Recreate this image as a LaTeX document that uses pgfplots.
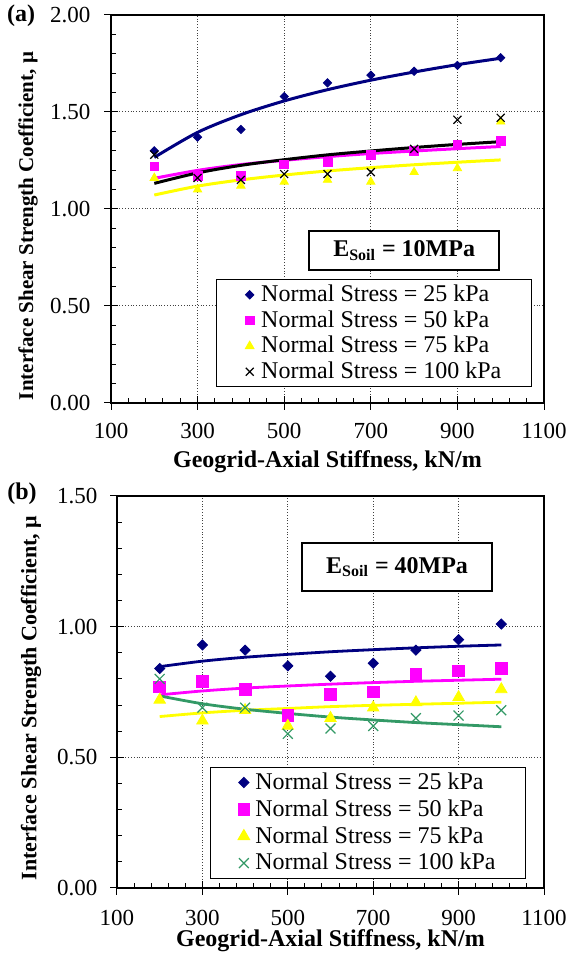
\documentclass[border=0pt]{standalone}
\usepackage{fontspec}
\setmainfont{Liberation Serif}
\usepackage{pgfplots}
\pgfplotsset{compat=1.18}

\definecolor{navyA}{RGB}{0,0,128}
\definecolor{magA}{RGB}{255,0,255}
\definecolor{yelA}{RGB}{255,255,0}
\definecolor{grnB}{RGB}{51,153,102}

\pgfplotsset{
  geo/.style={
    scale only axis,
    xmin=100, xmax=1100,
    xtick={100,300,500,700,900,1100},
    minor x tick num=4,
    ymin=0,
    minor y tick num=4,
    xtick pos=left, ytick pos=left,
    tick align=inside,
    major tick length=6.7pt, minor tick length=2.6pt,
    tick style={black, line width=0.5pt},
    major x tick style={yshift=-3.35pt},
    major y tick style={xshift=-3.35pt},
    grid=major,
    major grid style={densely dotted, black!75, line width=0.5pt},
    axis line style={line width=0.7pt},
    /pgf/number format/assume math mode=true,
    ticklabel style={font=\fontsize{11.5}{13}\selectfont},
    xticklabel style={/pgf/number format/1000 sep={}, anchor=base},
    yticklabel style={/pgf/number format/fixed, /pgf/number format/fixed zerofill,
      /pgf/number format/precision=2},
    xlabel={Geogrid-Axial Stiffness, kN/m},
    ylabel={Interface Shear Strength Coefficient, μ},
    legend cell align=left,
    legend image code/.code={\path (-3.5pt,0pt) (3.5pt,0pt); \draw[#1] plot coordinates {(0pt,0pt)};},
    legend style={draw=black, line width=0.5pt, fill=white, inner xsep=13pt, inner ysep=1pt,
      font=\fontsize{12}{14}\selectfont, nodes={inner xsep=2pt, inner ysep=1.5pt},
      anchor=south east},
  },
}
\tikzset{
  ebox/.style={draw=black, line width=0.9pt, fill=white, minimum width=95pt,
    font=\bfseries\fontsize{12}{14}\selectfont},
}

\begin{document}
\begin{tikzpicture}
\useasboundingbox (0,0) rectangle (285pt,476.5pt);

% (a) E_soil = 10 MPa
\begin{axis}[geo,
  at={(55.5pt,275pt)}, anchor=south west,
  width=216.5pt, height=194pt,
  ymax=2, ytick={0,0.5,1,1.5,2},
  xticklabel style={yshift=-18pt},
  yticklabel style={xshift=-6.8pt},
  xlabel style={font=\bfseries\fontsize{12}{14}\selectfont, at={([yshift=-32.5pt]axis description cs:0.5,0)}, anchor=base},
  ylabel style={font=\bfseries\fontsize{10.5}{12}\selectfont, at={([xshift=-41.5pt]axis description cs:0,0.456)}, anchor=center},
  legend style={at={(0.972,0.041)}},
]
\addplot[only marks, mark=square*, mark size=1.45pt, mark options={rotate=45, fill=navyA, draw=navyA}]
  coordinates {(200,1.30)(300,1.37)(400,1.41)(500,1.58)(600,1.65)(700,1.69)(800,1.71)(900,1.74)(1000,1.78)};
\addlegendentry{Normal Stress = 25 kPa}
\addplot[only marks, mark=square*, mark size=2.2pt, mark options={fill=magA, draw=magA}]
  coordinates {(200,1.22)(300,1.17)(400,1.17)(500,1.23)(600,1.24)(700,1.28)(800,1.30)(900,1.33)(1000,1.35)};
\addlegendentry{Normal Stress = 50 kPa}
\addplot[only marks, mark=triangle*, mark size=2.4pt, mark options={fill=yelA, draw=yelA}]
  coordinates {(200,1.16)(300,1.10)(400,1.12)(500,1.14)(600,1.15)(700,1.14)(800,1.19)(900,1.21)(1000,1.45)};
\addlegendentry{Normal Stress = 75 kPa}
\addplot[only marks, mark=x, mark size=2.8pt, mark options={draw=black, line width=0.6pt}]
  coordinates {(200,1.28)(300,1.16)(400,1.15)(500,1.18)(600,1.18)(700,1.19)(800,1.31)(900,1.46)(1000,1.47)};
\addlegendentry{Normal Stress = 100 kPa}

% trend lines
\addplot[navyA, line width=1.5pt, smooth, forget plot]
  coordinates {(200,1.266)(300,1.395)(400,1.486)(500,1.557)(600,1.615)(700,1.664)(800,1.706)(900,1.744)(1000,1.777)};
\addplot[magA, line width=1.5pt, smooth, forget plot]
  coordinates {(200,1.158)(300,1.199)(400,1.229)(500,1.251)(600,1.270)(700,1.286)(800,1.299)(900,1.311)(1000,1.322)};
\addplot[yelA, line width=1.5pt, smooth, forget plot]
  coordinates {(200,1.072)(300,1.118)(400,1.150)(500,1.175)(600,1.196)(700,1.213)(800,1.228)(900,1.241)(1000,1.253)};
\addplot[black, line width=1.5pt, smooth, forget plot]
  coordinates {(200,1.132)(300,1.186)(400,1.225)(500,1.254)(600,1.279)(700,1.299)(800,1.317)(900,1.333)(1000,1.347)};

\node[ebox, minimum height=19.5pt] at (rel axis cs:0.677,0.393) {E\textsubscript{Soil} = 10MPa};
\end{axis}

% (b) E_soil = 40 MPa
\begin{axis}[geo,
  at={(58.5pt,32.5pt)}, anchor=south west,
  width=213.5pt, height=196pt,
  ymax=1.5, ytick={0,0.5,1,1.5},
  xticklabel style={yshift=-18.7pt},
  yticklabel style={xshift=-6.3pt},
  xlabel style={font=\bfseries\fontsize{12}{14}\selectfont, at={([yshift=-29.2pt]axis description cs:0.5,0)}, anchor=base},
  ylabel style={font=\bfseries\fontsize{11}{12}\selectfont, at={([xshift=-43pt]axis description cs:0,0.485)}, anchor=center},
  legend style={at={(0.958,0.023)}, nodes={inner ysep=1.8pt}},
]
\addplot[only marks, mark=square*, mark size=1.8pt, mark options={rotate=45, fill=navyA, draw=navyA}]
  coordinates {(200,0.84)(300,0.93)(400,0.91)(500,0.85)(600,0.81)(700,0.86)(800,0.91)(900,0.95)(1000,1.01)};
\addlegendentry{Normal Stress = 25 kPa}
\addplot[only marks, mark=square*, mark size=2.9pt, mark options={fill=magA, draw=magA}]
  coordinates {(200,0.77)(300,0.79)(400,0.76)(500,0.66)(600,0.74)(700,0.75)(800,0.82)(900,0.83)(1000,0.84)};
\addlegendentry{Normal Stress = 50 kPa}
\addplot[only marks, mark=triangle*, mark size=3.3pt, mark options={fill=yelA, draw=yelA}]
  coordinates {(200,0.72)(300,0.64)(400,0.68)(500,0.62)(600,0.65)(700,0.69)(800,0.71)(900,0.73)(1000,0.76)};
\addlegendentry{Normal Stress = 75 kPa}
\addplot[only marks, mark=x, mark size=3.5pt, mark options={draw=grnB, line width=0.6pt}]
  coordinates {(200,0.80)(300,0.69)(400,0.69)(500,0.59)(600,0.61)(700,0.62)(800,0.65)(900,0.66)(1000,0.68)};
\addlegendentry{Normal Stress = 100 kPa}

% trend lines
\addplot[navyA, line width=1.4pt, smooth, forget plot]
  coordinates {(200,0.847)(300,0.868)(400,0.883)(500,0.894)(600,0.904)(700,0.912)(800,0.919)(900,0.925)(1000,0.930)};
\addplot[magA, line width=1.4pt, smooth, forget plot]
  coordinates {(200,0.739)(300,0.754)(400,0.765)(500,0.773)(600,0.780)(700,0.786)(800,0.791)(900,0.795)(1000,0.799)};
\addplot[yelA, line width=1.4pt, smooth, forget plot]
  coordinates {(200,0.656)(300,0.670)(400,0.680)(500,0.687)(600,0.694)(700,0.699)(800,0.703)(900,0.707)(1000,0.711)};
\addplot[grnB, line width=1.4pt, smooth, forget plot]
  coordinates {(200,0.735)(300,0.705)(400,0.684)(500,0.668)(600,0.654)(700,0.643)(800,0.633)(900,0.625)(1000,0.617)};

\node[ebox, minimum height=24pt] at (rel axis cs:0.656,0.819) {E\textsubscript{Soil} = 40MPa};
\end{axis}

\node[font=\bfseries\fontsize{12}{14}\selectfont] at (10.5pt,468.5pt) {(a)};
\node[font=\bfseries\fontsize{12}{14}\selectfont] at (11pt,229.5pt) {(b)};
\end{tikzpicture}
\end{document}
